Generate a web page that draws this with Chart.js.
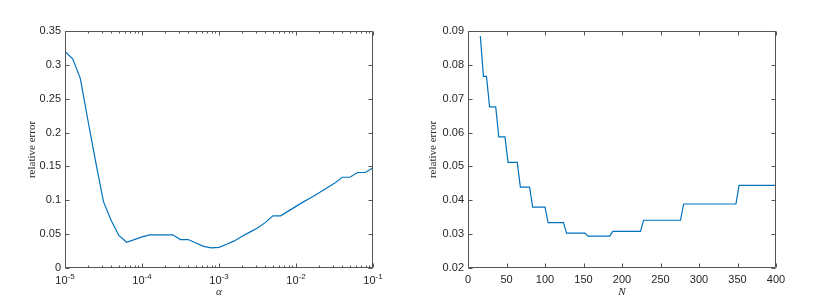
<!DOCTYPE html>
<html>
<head>
<meta charset="utf-8">
<script src="https://cdn.jsdelivr.net/npm/chart.js@4.4.0/dist/chart.umd.min.js"></script>
<style>
  html, body { margin: 0; padding: 0; background: #fff; }
  #wrap { position: relative; width: 815px; height: 304px; }
  .panel { position: absolute; top: 0; height: 304px; }
  #left { left: 0; width: 407px; }
  #right { left: 407px; width: 408px; }
</style>
</head>
<body>
<div id="wrap">
  <div class="panel" id="left"><canvas id="chart-alpha"></canvas></div>
  <div class="panel" id="right"><canvas id="chart-n"></canvas></div>
</div>
<script>
// left panel: relative error against alpha (log axis, 10 samples per decade)
const alphaValues = [
  1e-5, 1.26e-5, 1.58e-5, 2e-5, 2.51e-5, 3.16e-5, 3.98e-5, 5.01e-5, 6.31e-5, 7.94e-5,
  1e-4, 1.26e-4, 1.58e-4, 2e-4, 2.51e-4, 3.16e-4, 3.98e-4, 5.01e-4, 6.31e-4, 7.94e-4,
  1e-3, 1.26e-3, 1.58e-3, 2e-3, 2.51e-3, 3.16e-3, 3.98e-3, 5.01e-3, 6.31e-3, 7.94e-3,
  1e-2, 1.26e-2, 1.58e-2, 2e-2, 2.51e-2, 3.16e-2, 3.98e-2, 5.01e-2, 6.31e-2, 7.94e-2,
  1e-1
];
const alphaError = [
  0.320, 0.309, 0.280, 0.216, 0.156, 0.098, 0.070, 0.048, 0.038, 0.042,
  0.046, 0.049, 0.049, 0.049, 0.049, 0.042, 0.042, 0.037, 0.032, 0.0298,
  0.0305, 0.035, 0.040, 0.047, 0.053, 0.059, 0.067, 0.077, 0.077, 0.084,
  0.091, 0.098, 0.104, 0.111, 0.118, 0.125, 0.134, 0.134, 0.141, 0.141,
  0.148
];
const alphaTicks = [1e-5, 1e-4, 1e-3, 1e-2, 1e-1];
const minorSteps = [2, 3, 4, 5, 6, 7, 8, 9];
const errTicksAlpha = [0, 0.05, 0.1, 0.15, 0.2, 0.25, 0.3, 0.35];

// right panel: relative error against N (staircase, corner points only)
const nValues = [16, 20, 24, 28, 36, 40, 48, 52, 64, 68, 80, 84, 100, 104, 124, 128,
  152, 156, 184, 188, 224, 228, 276, 280, 348, 352, 400];
const nError = [0.0885, 0.0766, 0.0766, 0.0676, 0.0676, 0.0587, 0.0587, 0.0512, 0.0512,
  0.0439, 0.0439, 0.0380, 0.0380, 0.0334, 0.0334, 0.0303, 0.0303, 0.0294, 0.0294,
  0.0308, 0.0308, 0.0341, 0.0341, 0.0389, 0.0389, 0.0444, 0.0444];
const nTicks = [0, 50, 100, 150, 200, 250, 300, 350, 400];
const errTicksN = [0.02, 0.03, 0.04, 0.05, 0.06, 0.07, 0.08, 0.09];

const INK = '#262626';
const FRAME = '#555555';
const LINE = '#0072BD';
const SANS = '"Liberation Sans", Arial, sans-serif';
const SERIF = '"Liberation Serif", "Times New Roman", serif';

Chart.defaults.font.family = SANS;
Chart.defaults.font.size = 11;
Chart.defaults.color = INK;

const fmt = v => String(+Number(v).toFixed(2));

// MATLAB-like box with ticks pointing inward on all four sides
function boxPlugin(cfg) {
  return {
    id: 'box',
    afterDatasetsDraw(chart) {
      const { ctx, chartArea: a, scales: { x, y } } = chart;
      const L = Math.round(a.left) + 0.5, R = Math.round(a.right) - 0.5;
      const T = Math.round(a.top) + 0.5, B = Math.round(a.bottom) - 0.5;
      ctx.save();
      ctx.strokeStyle = FRAME;
      ctx.lineWidth = 1;
      ctx.beginPath();
      ctx.rect(L, T, R - L, B - T);
      const xt = (v, len) => {
        const p = Math.round(x.getPixelForValue(v)) + 0.5;
        ctx.moveTo(p, B); ctx.lineTo(p, B - len);
        ctx.moveTo(p, T); ctx.lineTo(p, T + len);
      };
      const yt = (v, len) => {
        const p = Math.round(y.getPixelForValue(v)) + 0.5;
        ctx.moveTo(L, p); ctx.lineTo(L + len, p);
        ctx.moveTo(R, p); ctx.lineTo(R - len, p);
      };
      cfg.xTicks.forEach(v => xt(v, 4));
      cfg.yTicks.forEach(v => yt(v, 4));
      if (cfg.logMinor) {
        cfg.xTicks.slice(0, -1).forEach(d => minorSteps.forEach(m => xt(m * d, 2)));
      }
      ctx.stroke();

      if (cfg.powerLabels) {
        ctx.fillStyle = INK;
        ctx.textBaseline = 'alphabetic';
        cfg.xTicks.forEach(v => {
          const e = String(Math.round(Math.log10(v)));
          ctx.font = '11px ' + SANS;
          const wb = ctx.measureText('10').width;
          ctx.font = '8px ' + SANS;
          const we = ctx.measureText(e).width;
          const p = x.getPixelForValue(v);
          const x0 = p - (wb + we) / 2;
          ctx.font = '11px ' + SANS;
          ctx.fillText('10', x0, 284);
          ctx.font = '8px ' + SANS;
          ctx.fillText(e, x0 + wb, 279);
        });
      }
      ctx.restore();
    }
  };
}

function makeChart(id, cfg) {
  return new Chart(document.getElementById(id), {
    type: 'line',
    data: {
      datasets: [{
        data: cfg.xs.map((v, i) => ({ x: v, y: cfg.ys[i] })),
        borderColor: LINE,
        borderWidth: 1.2,
        pointRadius: 0,
        tension: 0,
        fill: false
      }]
    },
    options: {
      responsive: true,
      maintainAspectRatio: false,
      animation: false,
      events: [],
      layout: { padding: { left: 0, top: 31, right: cfg.padRight, bottom: 0 } },
      plugins: { legend: { display: false }, tooltip: { enabled: false } },
      scales: {
        x: {
          type: cfg.xType,
          min: cfg.xMin,
          max: cfg.xMax,
          grid: { display: false, drawTicks: false },
          border: { display: false },
          afterBuildTicks: s => { s.ticks = cfg.xTicks.map(v => ({ value: v })); },
          afterFit: s => { s.height = 36; },
          ticks: { display: !cfg.powerLabels, padding: 5, maxRotation: 0, autoSkip: false, callback: v => fmt(v) },
          title: {
            display: true,
            text: cfg.xTitle,
            color: INK,
            font: { family: SERIF, size: 11, style: 'italic' },
            padding: { top: 0, bottom: 5 }
          }
        },
        y: {
          type: 'linear',
          min: cfg.yTicks[0],
          max: cfg.yTicks[cfg.yTicks.length - 1],
          grid: { display: false, drawTicks: false },
          border: { display: false },
          afterBuildTicks: s => { s.ticks = cfg.yTicks.map(v => ({ value: v })); },
          afterFit: s => { s.width = cfg.yWidth; },
          ticks: { padding: 4, autoSkip: false, callback: v => fmt(v) },
          title: {
            display: true,
            text: 'relative error',
            color: INK,
            font: { family: SERIF, size: 11 },
            padding: { top: cfg.yTitlePad, bottom: 0 }
          }
        }
      }
    },
    plugins: [boxPlugin(cfg)]
  });
}

makeChart('chart-alpha', {
  xs: alphaValues, ys: alphaError,
  xType: 'logarithmic', xMin: 1e-5, xMax: 1e-1,
  xTicks: alphaTicks, yTicks: errTicksAlpha,
  logMinor: true, powerLabels: true,
  xTitle: 'α', yWidth: 65, padRight: 34, yTitlePad: 26
});

makeChart('chart-n', {
  xs: nValues, ys: nError,
  xType: 'linear', xMin: 0, xMax: 400,
  xTicks: nTicks, yTicks: errTicksN,
  logMinor: false, powerLabels: false,
  xTitle: 'N', yWidth: 61, padRight: 39, yTitlePad: 20
});
</script>
</body>
</html>
